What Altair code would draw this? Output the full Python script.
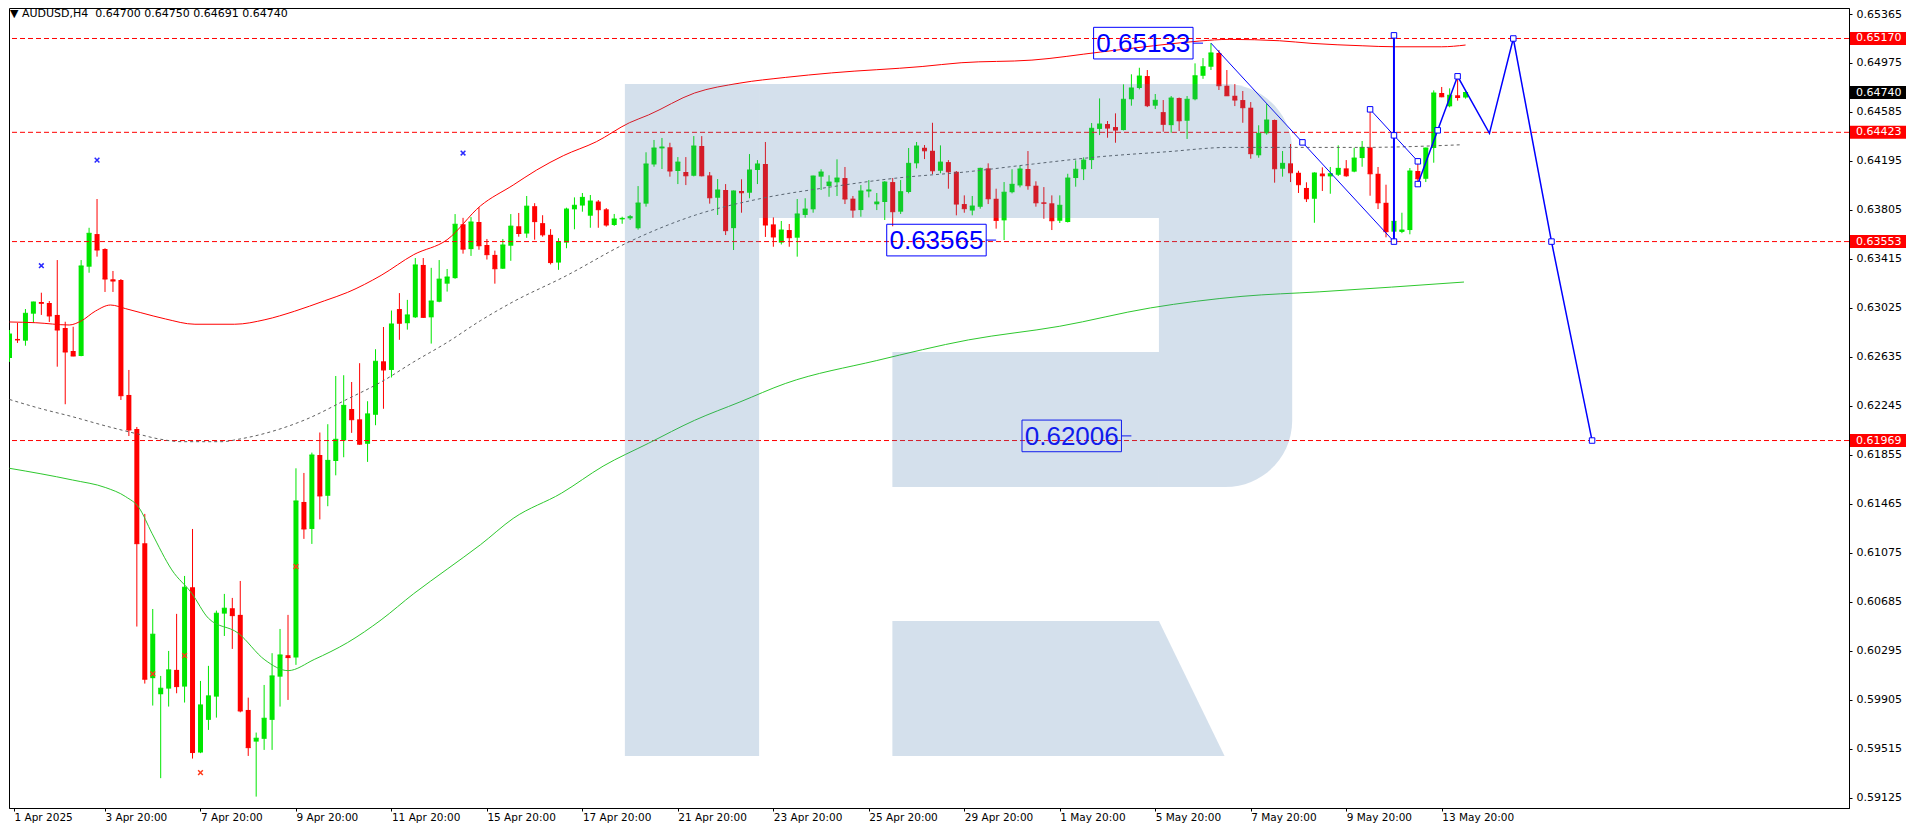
import altair as alt
import pandas as pd

# ---------------- data ----------------
HEADER = "\u25bc AUDUSD,H4\u00a0\u00a00.64700 0.64750 0.64691 0.64740"

OPEN = [0.62626, 0.62778, 0.62764, 0.62979, 0.63072, 0.63064, 0.62969, 0.62865, 0.62682, 0.62642,
        0.63353, 0.63613, 0.63494, 0.63253, 0.63247, 0.62332, 0.62061, 0.61151, 0.60077, 0.59949,
        0.59994, 0.60143, 0.60010, 0.60801, 0.59485, 0.59745, 0.59930, 0.60591, 0.60634, 0.60581,
        0.59824, 0.59572, 0.59594, 0.59745, 0.60089, 0.60260, 0.60241, 0.61480, 0.61265, 0.61854,
        0.61529, 0.61806, 0.61970, 0.62220, 0.62138, 0.61943, 0.62174, 0.62600, 0.62531, 0.63016,
        0.62903, 0.62950, 0.63367, 0.62950, 0.63074, 0.63218, 0.63262, 0.63691, 0.63493, 0.63709,
        0.63526, 0.63447, 0.63337, 0.63520, 0.63676, 0.63617, 0.63835, 0.63700, 0.63607, 0.63386,
        0.63545, 0.63810, 0.63840, 0.63759, 0.63872, 0.63810, 0.63685, 0.63730, 0.63738, 0.63659,
        0.63855, 0.64167, 0.64295, 0.64304, 0.64115, 0.64107, 0.64077, 0.64314, 0.64080, 0.63902,
        0.63964, 0.63660, 0.63956, 0.63942, 0.64123, 0.64171, 0.63690, 0.63545, 0.63645, 0.63584,
        0.63765, 0.63810, 0.64070, 0.63995, 0.64025, 0.64059, 0.63895, 0.63804, 0.63952, 0.63850,
        0.63868, 0.64027, 0.63791, 0.63948, 0.64176, 0.64300, 0.64276, 0.64117, 0.64186, 0.64109,
        0.63852, 0.63800, 0.63830, 0.64136, 0.63894, 0.63722, 0.63946, 0.64000, 0.64131, 0.63998,
        0.63865, 0.63858, 0.63719, 0.63709, 0.64059, 0.64129, 0.64202, 0.64450, 0.64489, 0.64465,
        0.64441, 0.64686, 0.64776, 0.64871, 0.64635, 0.64584, 0.64480, 0.64696, 0.64515, 0.64686,
        0.64873, 0.64945, 0.65055, 0.64794, 0.64714, 0.64680, 0.64619, 0.64240, 0.64415, 0.64521,
        0.64133, 0.64176, 0.64101, 0.63980, 0.63894, 0.64095, 0.64072, 0.64085, 0.64136, 0.64110,
        0.64218, 0.64303, 0.64093, 0.63862, 0.63632, 0.63630, 0.63645, 0.64115, 0.64053, 0.64298,
        0.64736, 0.64630, 0.64718, 0.64700]

HIGH = [0.62849, 0.62905, 0.63016, 0.63075, 0.63146, 0.63080, 0.63406, 0.62915, 0.62875, 0.63406,
        0.63663, 0.63892, 0.63500, 0.63319, 0.63255, 0.62531, 0.62077, 0.61385, 0.60628, 0.60095,
        0.60294, 0.60589, 0.60891, 0.61265, 0.60055, 0.60175, 0.60615, 0.60748, 0.60716, 0.60851,
        0.59922, 0.59644, 0.60023, 0.60276, 0.60469, 0.60581, 0.61748, 0.61711, 0.61873, 0.62033,
        0.62099, 0.62483, 0.62489, 0.62435, 0.62585, 0.62282, 0.62696, 0.62873, 0.63004, 0.63143,
        0.63089, 0.63422, 0.63422, 0.63344, 0.63406, 0.63335, 0.63772, 0.63742, 0.63748, 0.63826,
        0.63574, 0.63481, 0.63574, 0.63772, 0.63781, 0.63916, 0.63859, 0.63763, 0.63652, 0.63580,
        0.63823, 0.63905, 0.63940, 0.63924, 0.63884, 0.63820, 0.63773, 0.63751, 0.63765, 0.63995,
        0.64264, 0.64362, 0.64378, 0.64340, 0.64226, 0.64226, 0.64393, 0.64393, 0.64107, 0.64051,
        0.64011, 0.63960, 0.64049, 0.64250, 0.64202, 0.64346, 0.63746, 0.63717, 0.63693, 0.63892,
        0.63898, 0.64078, 0.64129, 0.64081, 0.64208, 0.64147, 0.63916, 0.64003, 0.64043, 0.63940,
        0.64035, 0.64059, 0.64043, 0.64298, 0.64346, 0.64322, 0.64499, 0.64319, 0.64202, 0.64115,
        0.63921, 0.63916, 0.64141, 0.64176, 0.63974, 0.64027, 0.64129, 0.64157, 0.64274, 0.64033,
        0.63987, 0.63921, 0.63921, 0.64093, 0.64200, 0.64224, 0.64497, 0.64693, 0.64513, 0.64574,
        0.64805, 0.64885, 0.64937, 0.64919, 0.64728, 0.64680, 0.64712, 0.64700, 0.64712, 0.64972,
        0.65014, 0.65133, 0.65078, 0.64919, 0.64807, 0.64752, 0.64664, 0.64479, 0.64648, 0.64525,
        0.64274, 0.64330, 0.64117, 0.64025, 0.64105, 0.64144, 0.64147, 0.64319, 0.64202, 0.64300,
        0.64354, 0.64608, 0.64147, 0.64006, 0.63717, 0.63783, 0.64139, 0.64176, 0.64300, 0.64757,
        0.64784, 0.64773, 0.64845, 0.64750]

LOW = [0.62595, 0.62746, 0.62724, 0.62907, 0.62969, 0.62913, 0.62557, 0.62258, 0.62640, 0.62640,
       0.63305, 0.63433, 0.63152, 0.63152, 0.62292, 0.62005, 0.60488, 0.60034, 0.59859, 0.59281,
       0.59851, 0.59957, 0.59883, 0.59437, 0.59480, 0.59665, 0.59763, 0.60413, 0.60310, 0.59805,
       0.59458, 0.59134, 0.59506, 0.59506, 0.59851, 0.59904, 0.60183, 0.61186, 0.61146, 0.61341,
       0.61446, 0.61692, 0.61836, 0.62030, 0.61935, 0.61799, 0.62091, 0.62222, 0.62471, 0.62771,
       0.62852, 0.62945, 0.62945, 0.62741, 0.63070, 0.63155, 0.63257, 0.63457, 0.63439, 0.63488,
       0.63410, 0.63218, 0.63335, 0.63400, 0.63592, 0.63583, 0.63568, 0.63592, 0.63371, 0.63328,
       0.63500, 0.63651, 0.63791, 0.63663, 0.63663, 0.63672, 0.63678, 0.63695, 0.63725, 0.63648,
       0.63831, 0.64149, 0.64131, 0.64070, 0.64011, 0.64003, 0.64072, 0.64072, 0.63855, 0.63765,
       0.63605, 0.63486, 0.63783, 0.63898, 0.64011, 0.63590, 0.63512, 0.63530, 0.63512, 0.63433,
       0.63743, 0.63783, 0.63964, 0.63910, 0.63916, 0.63852, 0.63743, 0.63751, 0.63905, 0.63804,
       0.63725, 0.63675, 0.63773, 0.63937, 0.64136, 0.64210, 0.64091, 0.64097, 0.63974, 0.63762,
       0.63783, 0.63762, 0.63815, 0.63852, 0.63656, 0.63565, 0.63937, 0.63985, 0.63966, 0.63831,
       0.63735, 0.63645, 0.63701, 0.63705, 0.63990, 0.64043, 0.64131, 0.64401, 0.64380, 0.64340,
       0.64438, 0.64635, 0.64765, 0.64624, 0.64608, 0.64428, 0.64420, 0.64433, 0.64370, 0.64678,
       0.64849, 0.64919, 0.64760, 0.64712, 0.64632, 0.64499, 0.64213, 0.64221, 0.64404, 0.64022,
       0.64070, 0.64027, 0.63940, 0.63868, 0.63703, 0.63956, 0.63934, 0.64075, 0.64069, 0.64105,
       0.64149, 0.63918, 0.63812, 0.63587, 0.63619, 0.63620, 0.63611, 0.64017, 0.64027, 0.64181,
       0.64702, 0.64622, 0.64675, 0.64691]

CLOSE = [0.62817, 0.62770, 0.62982, 0.63072, 0.63062, 0.62961, 0.62849, 0.62674, 0.62642, 0.63359,
         0.63619, 0.63486, 0.63255, 0.63239, 0.62326, 0.62053, 0.61148, 0.60069, 0.60427, 0.59997,
         0.60143, 0.60010, 0.60801, 0.59485, 0.59864, 0.59936, 0.60594, 0.60634, 0.60575, 0.59816,
         0.59524, 0.59599, 0.59758, 0.60095, 0.60262, 0.60241, 0.61488, 0.61265, 0.61854, 0.61528,
         0.61811, 0.61979, 0.62249, 0.62135, 0.61940, 0.62181, 0.62600, 0.62531, 0.62897, 0.62903,
         0.62969, 0.63367, 0.62950, 0.63080, 0.63254, 0.63271, 0.63691, 0.63493, 0.63709, 0.63520,
         0.63449, 0.63337, 0.63526, 0.63676, 0.63617, 0.63835, 0.63712, 0.63607, 0.63386, 0.63550,
         0.63812, 0.63842, 0.63905, 0.63876, 0.63807, 0.63685, 0.63733, 0.63738, 0.63751, 0.63860,
         0.64171, 0.64298, 0.64306, 0.64115, 0.64186, 0.64077, 0.64314, 0.64077, 0.63902, 0.63964,
         0.63640, 0.63956, 0.63942, 0.64123, 0.64171, 0.63685, 0.63590, 0.63645, 0.63584, 0.63773,
         0.63812, 0.64075, 0.64107, 0.64027, 0.64059, 0.63892, 0.63804, 0.63956, 0.63964, 0.63868,
         0.64027, 0.63791, 0.63950, 0.64176, 0.64314, 0.64276, 0.64117, 0.64186, 0.64109, 0.63852,
         0.63815, 0.63836, 0.64136, 0.63894, 0.63722, 0.63946, 0.64009, 0.64131, 0.63998, 0.63862,
         0.63858, 0.63719, 0.63842, 0.64059, 0.64129, 0.64202, 0.64455, 0.64489, 0.64457, 0.64441,
         0.64686, 0.64776, 0.64871, 0.64635, 0.64678, 0.64487, 0.64696, 0.64515, 0.64686, 0.64873,
         0.64945, 0.65055, 0.64794, 0.64714, 0.64680, 0.64619, 0.64253, 0.64415, 0.64521, 0.64133,
         0.64176, 0.64101, 0.64006, 0.63894, 0.64099, 0.64077, 0.64093, 0.64136, 0.64077, 0.64218,
         0.64303, 0.64093, 0.63862, 0.63632, 0.63714, 0.63645, 0.64115, 0.64053, 0.64298, 0.64736,
         0.64706, 0.64718, 0.64700, 0.64740]

X_TICK_IDX = [0, 12, 24, 36, 48, 60, 72, 84, 96, 108, 120, 132, 144, 156, 168, 180]
X_TICK_LABELS = ["1 Apr 2025", "3 Apr 20:00", "7 Apr 20:00", "9 Apr 20:00", "11 Apr 20:00",
                 "15 Apr 20:00", "17 Apr 20:00", "21 Apr 20:00", "23 Apr 20:00", "25 Apr 20:00",
                 "29 Apr 20:00", "1 May 20:00", "5 May 20:00", "7 May 20:00", "9 May 20:00",
                 "13 May 20:00"]
Y_TICKS = [0.59125, 0.59515, 0.59905, 0.60295, 0.60685, 0.61075, 0.61465, 0.61855, 0.62245,
           0.62635, 0.63025, 0.63415, 0.63805, 0.64195, 0.64585, 0.64975, 0.65365]

# indicator curves (bar index, price)
UPPER_IDX = [0, 3.3, 7.5, 9, 10.8, 12.7, 14.6, 16.5, 19.6, 23.3, 28.3, 32.1, 35.8, 39.6, 42.5,
             46.7, 50.8, 55, 59.2, 63.3, 66.25, 69.6, 73.75, 77.9, 80.3, 86.1, 91.8, 97.5, 103.3,
             114.7, 119.6, 128.5, 137.1, 144.6, 149.6, 153.3, 159.6, 163.7, 170, 174.2, 180, 183]
UPPER = [0.62913, 0.62907, 0.62889, 0.62921, 0.63000, 0.63048, 0.63019, 0.62987, 0.62937, 0.62895,
         0.62895, 0.62931, 0.62998, 0.63082, 0.63149, 0.63284, 0.63449, 0.63568, 0.63838, 0.64003,
         0.64123, 0.64237, 0.64348, 0.64499, 0.64561, 0.64736, 0.64815, 0.64860, 0.64896, 0.64947,
         0.64977, 0.64998, 0.65062, 0.65118, 0.65150, 0.65163, 0.65152, 0.65131, 0.65112, 0.65104,
         0.65104, 0.65118]
MID_IDX = [0, 3.75, 7.9, 12.1, 16.25, 18.75, 21.7, 26.7, 28.75, 32.9, 37.1, 42.5, 46.7, 50.8, 55,
           59.2, 63.3, 69.6, 77.9, 86.25, 94.6, 102.9, 111.25, 120.4, 128.7, 137.1, 145.4, 153.3,
           170, 182.5]
MID = [0.62296, 0.62226, 0.62159, 0.62085, 0.62019, 0.61982, 0.61960, 0.61960, 0.61979, 0.62040,
       0.62133, 0.62300, 0.62435, 0.62595, 0.62750, 0.62924, 0.63074, 0.63269, 0.63552, 0.63765,
       0.63898, 0.63985, 0.64057, 0.64109, 0.64171, 0.64229, 0.64268, 0.64303, 0.64303, 0.64324]
LOWER_IDX = [0, 7.9, 12.1, 14.6, 16.25, 17.9, 20.4, 22.9, 25, 28.75, 32.1, 35, 38.3, 42.5, 46.7,
             50.8, 55, 59.2, 63.3, 69.4, 74.6, 80.3, 86.1, 91.8, 97.5, 109, 120.5, 132, 143.4,
             154.9, 164.6, 182.8]
LOWER = [0.61748, 0.61655, 0.61594, 0.61522, 0.61436, 0.61231, 0.60939, 0.60753, 0.60554, 0.60435,
         0.60222, 0.60137, 0.60226, 0.60361, 0.60541, 0.60750, 0.60945, 0.61140, 0.61349, 0.61551,
         0.61765, 0.61947, 0.62130, 0.62276, 0.62423, 0.62606, 0.62770, 0.62879, 0.63025, 0.63117,
         0.63153, 0.63231]

HLINES = [0.65170, 0.64423, 0.63553, 0.61969]
LAST_PRICE = 0.64740

FRACTAL_UP_IDX = [4, 11, 57]
FRACTAL_UP = [0.63361, 0.64202, 0.64258]
FRACTAL_DN_IDX = [18, 22, 24, 36]
FRACTAL_DN = [0.60111, 0.60257, 0.59325, 0.60966]

WAVE_A_IDX = [151, 174]
WAVE_A = [0.65133, 0.63553]
WAVE_B_IDX = 174
WAVE_B = [0.63553, 0.65195]
WAVE_C_IDX = [171, 177]
WAVE_C = [0.64606, 0.64192]
FORECAST_IDX = [177, 182, 186, 189, 193.8, 198.9]
FORECAST = [0.64011, 0.64869, 0.64415, 0.65170, 0.63553, 0.61969]
NODE_IDX = [162.5, 171, 174, 174, 174, 177, 177, 179.5, 182, 189, 193.8, 198.9]
NODE = [0.64343, 0.64606, 0.65195, 0.64399, 0.63553, 0.64192, 0.64011, 0.64439, 0.64869, 0.65170,
        0.63553, 0.61969]

LABEL_IDX = [150, 124, 141]
LABEL_PRICE = [0.65133, 0.63565, 0.62006]

# watermark logo outline in (bar index, price)
WM_X1 = [77.34, 94.21, 110.96]
WM_X2 = [94.21, 144.46, 144.46]
WM_TOP = [0.64807, 0.64807, 0.62674]
WM_BOT = [0.59458, 0.63741, 0.61599]
WM_BOWL = {"x1": [144.46], "x2": [161.21], "top": [0.64807], "bot": [0.61599]}
WM_LEG_X = [110.96, 144.46, 152.71]
WM_LEG_TOP = [0.60533, 0.60533, 0.59458]
WM_LEG_BOT = [0.59458, 0.59458, 0.59458]

# ---------------- chart ----------------
W, H = 1840, 800
BAR_PX = 8
X0 = 0.5625
X1 = X0 + W / BAR_PX
Y_TOP, Y_BOT = 0.654128, 0.590434

FONT = "DejaVu Sans"
GREEN = "#00e600"
RED = "#ff0000"
BLUE = "#0000ff"
WM_COLOR = "#467aac"
WM_OPACITY = 0.23
X_MARK = "M-1,-1L1,1M1,-1L-1,1"

xs = alt.Scale(domain=[X0, X1], nice=False, zero=False)
ys = alt.Scale(domain=[Y_BOT, Y_TOP], nice=False, zero=False)

label_expr = "[" + ",".join("'%s'" % s for s in X_TICK_LABELS) + "][round(datum.value / 12)]"
xaxis = alt.Axis(values=[X0] + X_TICK_IDX[1:], labelExpr=label_expr, title=None, grid=False,
                 labelAlign="left", labelBaseline="top", labelFont=FONT, labelFontSize=10.5,
                 labelColor="black", labelPadding=1, tickSize=3, tickColor="black",
                 domainColor="black", labelFlush=False, labelOverlap=False, labelBound=False)
yaxis = alt.Axis(orient="right", values=Y_TICKS, format=".5f", title=None, grid=False,
                 labelFont=FONT, labelFontSize=11, labelColor="black", labelPadding=4,
                 tickSize=3, tickColor="black", domainColor="black", labelFlush=False,
                 labelOverlap=False)


def X(f):
    return alt.X(f"{f}:Q", scale=xs, axis=xaxis)


def Y(f):
    return alt.Y(f"{f}:Q", scale=ys, axis=yaxis)


def series(idx, vals):
    return pd.DataFrame({"i": idx, "p": vals})


cdf = pd.DataFrame({"i": list(range(len(OPEN))), "o": OPEN, "h": HIGH, "l": LOW, "c": CLOSE})
cdf["dir"] = ["up" if c >= o else "down" for o, c in zip(OPEN, CLOSE)]
col = alt.Color("dir:N", scale=alt.Scale(domain=["up", "down"], range=[GREEN, RED]), legend=None)

base = alt.Chart(cdf)
wicks = base.mark_rule(strokeWidth=1, clip=True).encode(x=X("i"), y=Y("l"), y2="h:Q", color=col)
bodies = base.mark_bar(size=5, clip=True).encode(x=X("i"), y=Y("o"), y2="c:Q", color=col)
doji = base.mark_tick(orient="horizontal", size=5, thickness=1, opacity=1, clip=True).encode(
    x=X("i"), y=Y("c"), color=col)

hlines = alt.Chart(pd.DataFrame({"p": HLINES})).mark_rule(
    color=RED, strokeWidth=1, strokeDash=[5, 3]).encode(y=Y("p"))

upper = alt.Chart(series(UPPER_IDX, UPPER)).mark_line(
    color="#ff0000", strokeWidth=1, interpolate="monotone", clip=True).encode(x=X("i"), y=Y("p"))
mid = alt.Chart(series(MID_IDX, MID)).mark_line(
    color="#606060", strokeWidth=1, strokeDash=[3, 3], interpolate="monotone", clip=True).encode(
    x=X("i"), y=Y("p"))
lower = alt.Chart(series(LOWER_IDX, LOWER)).mark_line(
    color="#2ec82e", strokeWidth=1, interpolate="monotone", clip=True).encode(x=X("i"), y=Y("p"))

fr_up = alt.Chart(series(FRACTAL_UP_IDX, FRACTAL_UP)).mark_point(
    shape=X_MARK, filled=False, size=22, strokeWidth=1.5, color="#2a2aff", opacity=1).encode(
    x=X("i"), y=Y("p"))
fr_dn = alt.Chart(series(FRACTAL_DN_IDX, FRACTAL_DN)).mark_point(
    shape=X_MARK, filled=False, size=22, strokeWidth=1.5, color="#ff3a1a", opacity=1).encode(
    x=X("i"), y=Y("p"))

wave_df = pd.DataFrame({"i": WAVE_A_IDX + WAVE_C_IDX, "p": WAVE_A + WAVE_C,
                        "seg": ["a", "a", "c", "c"]})
waves = alt.Chart(wave_df).mark_line(color=BLUE, strokeWidth=1, clip=True).encode(
    x=X("i"), y=Y("p"), detail="seg:N")
vline = alt.Chart(pd.DataFrame({"i": [WAVE_B_IDX], "lo": [WAVE_B[0]], "hi": [WAVE_B[1]]})).mark_rule(
    color=BLUE, strokeWidth=2).encode(x=X("i"), y=Y("lo"), y2="hi:Q")
forecast = alt.Chart(series(FORECAST_IDX, FORECAST)).mark_line(
    color=BLUE, strokeWidth=1.5, clip=True).encode(x=X("i"), y=Y("p"))
nodes = alt.Chart(series(NODE_IDX, NODE)).mark_point(
    shape="square", size=30, filled=True, fill="white", stroke=BLUE, strokeWidth=1,
    opacity=1).encode(x=X("i"), y=Y("p"))

lab = pd.DataFrame({"i": LABEL_IDX, "p": LABEL_PRICE, "t": ["%.5f" % v for v in LABEL_PRICE]})
lab_base = alt.Chart(lab).transform_calculate(
    bx1="datum.i - 13.75", bx2="datum.i - 1.25", by1="datum.p + 0.00126",
    by2="datum.p - 0.00126", tx="datum.i - 7.5")
lab_box = lab_base.mark_rect(fillOpacity=0, stroke=BLUE, strokeWidth=1).encode(
    x=X("bx1"), x2="bx2:Q", y=Y("by1"), y2="by2:Q")
lab_conn = lab_base.mark_rule(color=BLUE, strokeWidth=1).encode(x=X("bx2"), x2="i:Q", y=Y("p"))
lab_txt = lab_base.mark_text(font="Liberation Sans", fontSize=26, color=BLUE, align="center",
                             baseline="middle", dy=1).encode(x=X("tx"), y=Y("p"), text="t:N")

wm_rects = alt.Chart(pd.DataFrame({"x1": WM_X1, "x2": WM_X2, "top": WM_TOP, "bot": WM_BOT})).mark_rect(
    color=WM_COLOR, opacity=WM_OPACITY).encode(x=X("x1"), x2="x2:Q", y=Y("top"), y2="bot:Q")
wm_bowl = alt.Chart(pd.DataFrame(WM_BOWL)).mark_rect(
    color=WM_COLOR, opacity=WM_OPACITY, cornerRadiusTopRight=133,
    cornerRadiusBottomRight=133).encode(x=X("x1"), x2="x2:Q", y=Y("top"), y2="bot:Q")
wm_leg = alt.Chart(pd.DataFrame({"x": WM_LEG_X, "top": WM_LEG_TOP, "bot": WM_LEG_BOT})).mark_area(
    color=WM_COLOR, opacity=WM_OPACITY).encode(x=X("x"), y=Y("top"), y2="bot:Q")

ab = pd.DataFrame({"p": HLINES + [LAST_PRICE], "bg": [RED] * len(HLINES) + ["#000000"]})
ax_boxes = alt.Chart(ab).mark_tick(orient="horizontal", size=56, thickness=13, opacity=1).encode(
    x=alt.value(W + 29), y=Y("p"), color=alt.Color("bg:N", scale=None))
ax_text = alt.Chart(ab).transform_calculate(t="format(datum.p, '.5f')").mark_text(
    align="left", baseline="middle", font=FONT, fontSize=11, color="white").encode(
    x=alt.value(W + 7), y=Y("p"), text="t:N")

header = alt.Chart(pd.DataFrame({"t": [HEADER]})).mark_text(
    align="left", baseline="middle", font=FONT, fontSize=11, color="black").encode(
    x=alt.value(1), y=alt.value(6), text="t:N")

chart = alt.layer(
    wicks, bodies, doji, hlines, upper, mid, lower, fr_up, fr_dn,
    waves, vline, forecast, nodes, lab_box, lab_conn, lab_txt,
    wm_rects, wm_bowl, wm_leg, ax_boxes, ax_text, header
).properties(width=W, height=H, padding=0, background="white").configure_view(
    stroke="black", strokeWidth=1)

chart.save("out.html", embed_options={"renderer": "svg", "actions": False})
